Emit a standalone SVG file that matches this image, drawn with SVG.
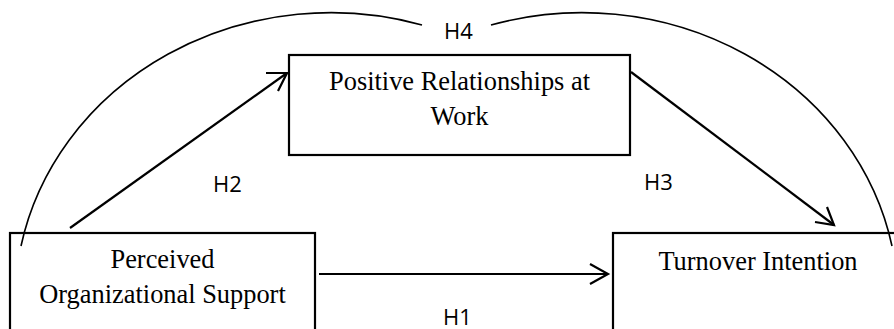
<svg xmlns="http://www.w3.org/2000/svg" width="894" height="329" viewBox="0 0 894 329">
<style>
.box{fill:#fff;stroke:#000;stroke-width:2.2}
.nt{font-family:"Liberation Serif","Times New Roman",serif;font-size:26.4px;fill:#000;text-anchor:middle}
.lb{font-family:"Open Sans","Liberation Sans",sans-serif;font-size:22px;fill:#000}
.ln{fill:none;stroke:#000;stroke-width:2.2}
.arc{fill:none;stroke:#000;stroke-width:1.6}
</style>
<rect width="894" height="329" fill="#fff"/>
<g id="node-prw">
<rect class="box" x="289" y="55" width="341" height="100"/>
<text class="nt" x="459.5" y="90">Positive Relationships at</text>
<text class="nt" x="459.5" y="125">Work</text>
</g>
<g id="node-pos">
<rect class="box" x="10" y="233" width="305" height="110"/>
<text class="nt" x="162.5" y="268">Perceived</text>
<text class="nt" x="162.5" y="303">Organizational Support</text>
</g>
<g id="node-ti">
<rect class="box" x="613" y="233" width="290" height="110"/>
<text class="nt" x="758" y="270">Turnover Intention</text>
</g>
<g id="connectors">
<path class="arc" d="M21 246 A316 290 0 0 1 422 25"/>
<path class="arc" d="M491 25 A316 290 0 0 1 892 246"/>
<path class="ln" d="M70 228 L287 73"/>
<path class="ln" d="M266 73 L287 73 L278 91"/>
<path class="ln" d="M631 72 L834 225"/>
<path class="ln" d="M815 222 L834 225 L827 207"/>
<path class="ln" d="M319 274 L608 274"/>
<path class="ln" d="M590 264 L608 274 L590 284"/>
</g>
<g id="labels">
<text class="lb" x="444" y="39">H4</text>
<text class="lb" x="213" y="192">H2</text>
<text class="lb" x="644" y="190">H3</text>
<text class="lb" x="443" y="325">H1</text>
</g>
</svg>
